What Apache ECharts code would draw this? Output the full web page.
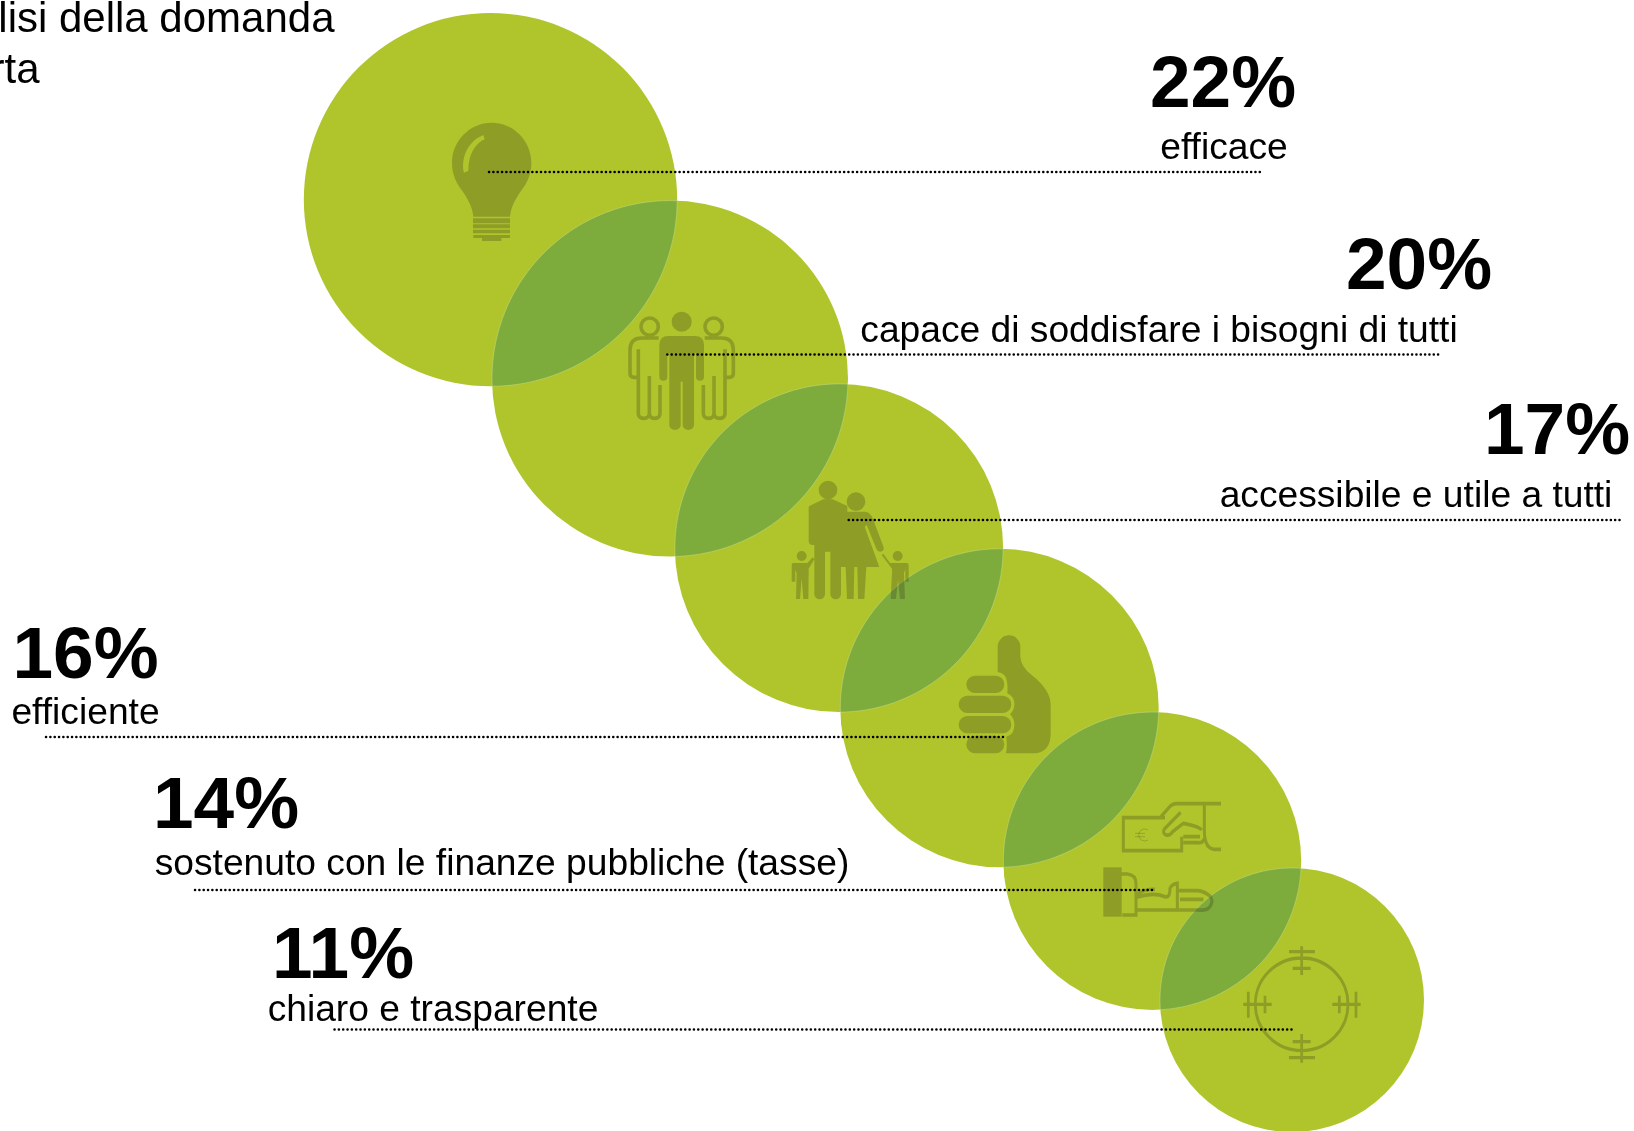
<!DOCTYPE html>
<html>
<head>
<meta charset="utf-8">
<title>Analisi della domanda</title>
<style>
  html, body { margin: 0; padding: 0; background: #fff; }
  #main { width: 1634px; height: 1131px; }
</style>
<script src="https://cdn.jsdelivr.net/npm/echarts@6/dist/echarts.min.js"></script>
</head>
<body>
<div id="main"></div>
<script>
// values
const shares = [22, 20, 17, 16, 14, 11];
const names = ['efficace', 'capace di soddisfare i bisogni di tutti', 'accessibile e utile a tutti',
  'efficiente', 'sostenuto con le finanze pubbliche (tasse)', 'chiaro e trasparente'];
const titleLines = ['lisi della domanda', 'rta'];

// circle centres, area follows the share
const circleX = [490.5, 670, 839, 999.5, 1152.3, 1292];
const circleY = [199.6, 378.6, 548, 708, 861, 1000];
const diameterPerRoot = 79.6;

// label anchors
const shareX = [1223, 1419, 1557, 85.5, 226, 343];
const shareY = [87, 269, 434, 658, 808, 958];
const nameX = [1224, 1159, 1416, 85.5, 502, 433];
const nameY = [149, 332, 497, 714, 865, 1011];
const titleX = [334.5, 39.6];
const titleY = [20, 71];

// dotted leaders
const leaderStart = [489, 667.3, 848.7, 46, 195, 334.5];
const leaderEnd = [1261, 1439, 1620, 1004, 1153, 1292.7];
const leaderY = [172, 354.5, 520, 737, 890, 1029.5];

const GREEN = '#b0c52b';
const LENS = '#7dac3c';
const ICON = 'rgba(49,44,27,0.33)';

function ring(cx, cy, r) {
  return `M${cx - r} ${cy}A${r} ${r} 0 1 1 ${cx + r} ${cy}A${r} ${r} 0 1 1 ${cx - r} ${cy}Z`;
}
function pill(x0, y0, x1, y1) {
  const r = (y1 - y0) / 2;
  return `M${x0 + r} ${y0}H${x1 - r}A${r} ${r} 0 0 1 ${x1 - r} ${y1}H${x0 + r}A${r} ${r} 0 0 1 ${x0 + r} ${y0}Z`;
}
function box(x0, y0, x1, y1) {
  return `M${x0} ${y0}H${x1}V${y1}H${x0}Z`;
}

// icons are drawn in the 3x crop frames they were traced from
const frameA = { x: 420, y: 100, w: 340, h: 340 };
const frameB = { x: 770, y: 470, w: 320, h: 300 };
const frameC = { x: 1090, y: 780, w: 280, h: 340 };

const bulb = 'M215 68C150 68 96 122 96 188C96 225 110 250 125 270C140 292 158 320 160 350H270C272 320 290 292 305 270C320 250 334 225 334 188C334 122 280 68 215 68Z'
  + 'M194 118C165 130 145 165 145 212L132 218C122 180 140 125 190 105Z'
  + box(159, 355, 270, 370) + box(159, 373, 270, 385) + box(159, 389, 270, 400) + box(160, 405, 270, 414) + box(186, 414, 244, 423);
const centerMan = ring(785, 665, 30)
  + 'M745 708H825Q852 708 852 735V830A12 12 0 0 1 828 830V760H822V975A17 15 0 0 1 788 975V845H782V975A17 15 0 0 1 748 975V760H742V830A12 12 0 0 1 718 830V735Q718 708 745 708Z';
const sideMen = ring(689, 680, 26)
  + 'M716 714H665Q630 714 630 750V820Q630 832 642 832H655M655 748V940Q655 955 671 955Q688 955 688 940V828M688 940Q688 955 704 955Q720 955 720 940V855'
  + ring(881, 680, 26)
  + 'M854 714H905Q940 714 940 750V820Q940 832 928 832H915M915 748V940Q915 955 899 955Q882 955 882 940V828M882 940Q882 955 866 955Q850 955 850 940V855';
const family = ring(174, 60, 28) + ring(258, 95, 28)
  + 'M118 108L160 88H188L232 108V125H285Q300 125 308 145L341 232Q343 242 332 245Q323 246 319 236L290 165L284 170L328 291H289L283 387H264L262 291H253L251 387H231L227 291H213V372A16 16 0 0 1 181 372V245H165V372A16 16 0 0 1 133 372V225H125Q116 222 116 212V112Z'
  + ring(95, 258, 15)
  + 'M70 279H112L128 262L133 268L116 296V310L115 387H100L95 325L90 387H78L80 310L76 300V335H65V285Q65 279 70 279Z'
  + ring(383, 258, 15)
  + 'M335 255L340 251L360 279H410Q416 279 416 285V335H406V297L402 310L405 387H390L384 330L378 387H362L366 310V296Z';
const thumb = 'M683 530A34 34 0 0 1 751 530V560Q753 590 785 615Q842 660 842 705V790Q842 850 790 850H708Q712 830 709 800Q733 795 733 765Q733 745 720 733Q733 720 733 702Q733 680 712 670Q714 650 711 635Q708 610 683 606Z'
  + pill(589, 617, 703, 669) + pill(566, 677, 724, 729) + pill(566, 738, 724, 790) + pill(589, 797, 703, 850);
const moneyFill = box(40, 262, 95, 410);
const moneyLine = 'M225 113H100V212H275V170M393 71H260Q245 71 235 85L213 110M343 72V150Q343 208 375 208H393'
  + 'M272 97L225 145Q215 158 228 165Q240 168 248 155L280 130Q330 140 335 150M280 170H330M280 188H325Q340 190 345 170'
  + 'M95 282H112Q138 285 138 310V405H97'
  + 'M140 352Q190 335 225 350Q240 355 240 325Q245 312 262 310V332H325Q345 335 362 350Q372 370 355 385Q345 392 320 390H140'
  + 'M262 335V385M270 358H340M140 345Q165 325 195 328';
const euro = 'M174 150A18 18 0 1 0 174 180M135 160H165M135 170H165';
const target = ring(635, 673, 139)
  + 'M635 499V585M597 515H675M608 565H662M635 762V848M608 785H662M597 833H675'
  + 'M460 673H545M475 635V713M525 647V700M727 673H812M798 635V713M748 647V700';

function framed(path, f) {
  const w = f.w * 3, h = f.h * 3;
  return `path://M0 0L0 0M${w} ${h}L${w} ${h}` + path;
}
function iconItem(path, f, strokeWidth) {
  return {
    value: [f.x + f.w / 2, f.y + f.h / 2],
    symbol: framed(path, f),
    symbolSize: [f.w, f.h],
    itemStyle: strokeWidth
      ? { color: 'transparent', borderColor: ICON, borderWidth: strokeWidth }
      : { color: ICON, borderWidth: 0 }
  };
}
const icons = [
  iconItem(bulb, frameA), iconItem(centerMan, frameA), iconItem(sideMen, frameA, 3.6),
  iconItem(family, frameB), iconItem(thumb, frameB),
  iconItem(moneyFill, frameC), iconItem(moneyLine, frameC, 3.3), iconItem(euro, frameC, 0.8),
  iconItem(target, frameC, 3)
];

function lensPoints(a, b, api) {
  const c0 = api.coord([circleX[a], circleY[a]]), c1 = api.coord([circleX[b], circleY[b]]);
  const r0 = diameterPerRoot * Math.sqrt(shares[a]) / 2, r1 = diameterPerRoot * Math.sqrt(shares[b]) / 2;
  const d = Math.hypot(c1[0] - c0[0], c1[1] - c0[1]);
  const base = Math.atan2(c1[1] - c0[1], c1[0] - c0[0]);
  const a0 = Math.acos((d * d + r0 * r0 - r1 * r1) / (2 * d * r0));
  const a1 = Math.acos((d * d + r1 * r1 - r0 * r0) / (2 * d * r1));
  const pts = [];
  for (let i = 0; i <= 60; i++) {
    const t = base - a0 + 2 * a0 * i / 60;
    pts.push([c0[0] + r0 * Math.cos(t), c0[1] + r0 * Math.sin(t)]);
  }
  for (let i = 0; i <= 60; i++) {
    const t = base + Math.PI - a1 + 2 * a1 * i / 60;
    pts.push([c1[0] + r1 * Math.cos(t), c1[1] + r1 * Math.sin(t)]);
  }
  return pts;
}

function textSeries(xs, ys, texts, z, font, align) {
  const labelStyle = {
    show: true,
    position: 'inside',
    align: align || 'center',
    verticalAlign: 'middle',
    color: '#000000',
    opacity: 1,
    fontFamily: '"Liberation Sans", Arial, sans-serif',
    fontSize: font.size,
    fontWeight: font.weight
  };
  return {
    type: 'scatter',
    z: z,
    silent: true,
    clip: false,
    symbolSize: 1,
    itemStyle: { color: 'transparent' },
    label: labelStyle,
    data: texts.map((t, i) => ({
      value: [xs[i], ys[i]],
      label: Object.assign({}, labelStyle, { formatter: () => t, rich: { b: { color: '#000000' } } })
    }))
  };
}

const leaderSeries = leaderStart.map((x, i) => ({
  type: 'line',
  z: 4,
  silent: true,
  symbol: 'none',
  lineStyle: { color: '#000', width: 2.5, type: [0.1, 4.23], cap: 'round' },
  data: [[x, leaderY[i]], [leaderEnd[i], leaderY[i]]]
}));

let mychart = echarts.init(document.getElementById('main'), null, { renderer: 'canvas' });
mychart.setOption({
  animation: false,
  backgroundColor: '#fff',
  tooltip: { show: false },
  grid: { left: 0, right: 0, top: 0, bottom: 0 },
  xAxis: { type: 'value', min: 0, max: 1634, show: false },
  yAxis: { type: 'value', min: 0, max: 1131, inverse: true, show: false },
  series: [
    {
      type: 'scatter',
      z: 1,
      silent: true,
      clip: false,
      symbol: 'circle',
      itemStyle: { color: GREEN, opacity: 1 },
      symbolSize: (v) => diameterPerRoot * Math.sqrt(v[2]),
      data: shares.map((s, i) => [circleX[i], circleY[i], s])
    },
    {
      type: 'custom',
      z: 2,
      silent: true,
      coordinateSystem: 'cartesian2d',
      clip: false,
      data: shares.slice(1).map((s, i) => [i]),
      encode: { x: 0 },
      renderItem: (params, api) => ({
        type: 'polygon',
        shape: { points: lensPoints(params.dataIndex, params.dataIndex + 1, api) },
        style: { fill: LENS, stroke: 'rgba(205,222,150,0.55)', lineWidth: 0.8 }
      })
    },
    {
      type: 'scatter',
      z: 3,
      silent: true,
      clip: false,
      data: icons
    },
    ...leaderSeries,
    textSeries(shareX, shareY, shares.map((s) => s + '%'), 5, { size: 73, weight: 'bold' }),
    textSeries(nameX, nameY, names, 5, { size: 37.2, weight: 'normal' }),
    textSeries(titleX, titleY, titleLines, 5, { size: 42, weight: 'normal' }, 'right')
  ]
});
window.onresize = mychart.resize;
</script>
</body>
</html>
